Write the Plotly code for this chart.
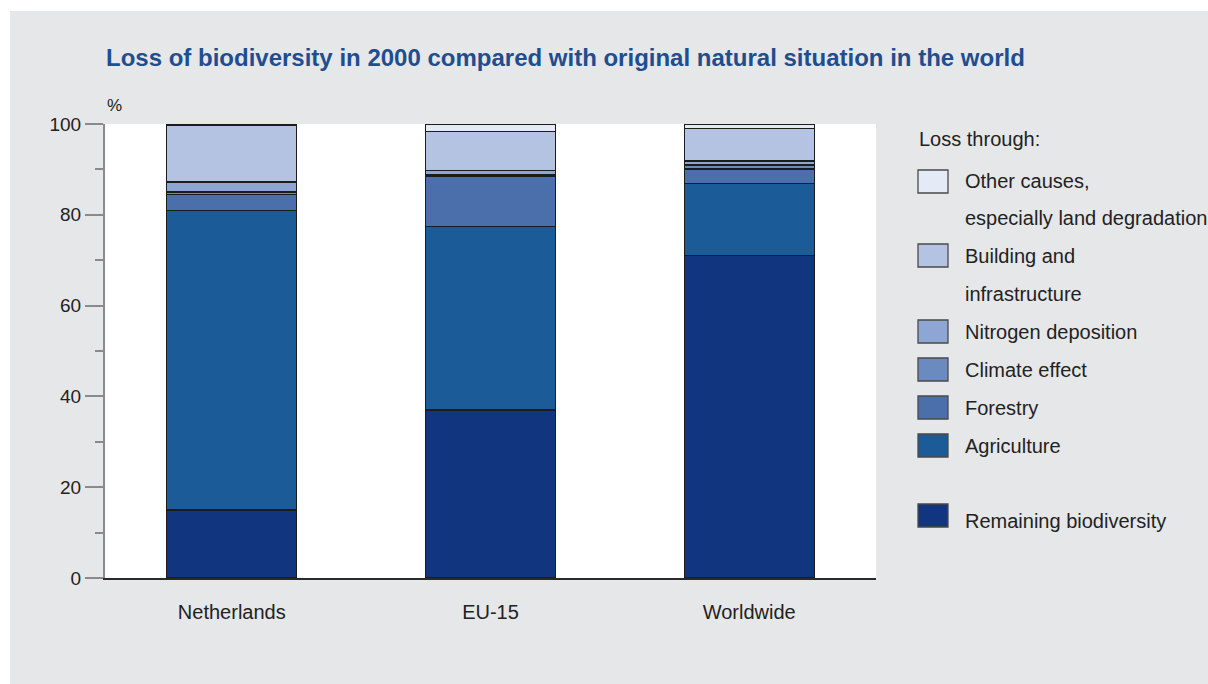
import plotly.graph_objects as go

# --- data -------------------------------------------------------------
regions = ["Netherlands", "EU-15", "Worldwide"]

remaining = [15.0, 37.0, 71.0]
agriculture = [66.0, 40.4, 15.9]
forestry = [3.5, 11.0, 3.2]
climate = [0.5, 0.4, 0.9]
nitrogen = [2.2, 0.9, 0.85]
building = [12.6, 8.7, 7.2]
other = [0.2, 1.6, 0.95]

series_names = [
    "Remaining biodiversity", "Agriculture", "Forestry", "Climate effect",
    "Nitrogen deposition", "Building and infrastructure",
    "Other causes, especially land degradation",
]
series_values = [remaining, agriculture, forestry, climate, nitrogen, building, other]
series_colors = ["#12357f", "#1b5b98", "#4a6fab", "#6b8bc0", "#8ea6d3", "#b3c3e1", "#e4ebf7"]

y_ticks = [0, 20, 40, 60, 80, 100]

# --- canvas geometry (pixels) -----------------------------------------
W, H = 1208, 684
PL, PR, PT, PB = 105, 876, 124, 578   # plot area edges


def fx(px):
    return (px - PL) / (PR - PL)


def fy(py):
    return (PB - py) / (PB - PT)


FONT = "Liberation Sans Narrow, Arial Narrow, Liberation Sans, Arial, sans-serif"
BG = "#e6e7e9"
TXT = "#222"

fig = go.Figure()
for name, vals, col in zip(series_names, series_values, series_colors):
    fig.add_trace(go.Bar(
        x=regions, y=vals, name=name,
        marker=dict(color=col, line=dict(color="#1c1c1c", width=1.3)),
        showlegend=False,
    ))

shapes = [
    # white page margins around the grey panel
    dict(type="rect", xref="paper", yref="paper", x0=fx(0), x1=fx(W), y0=fy(0), y1=fy(11),
         fillcolor="white", line_width=0, layer="below"),
    dict(type="rect", xref="paper", yref="paper", x0=fx(0), x1=fx(10), y0=fy(0), y1=fy(H),
         fillcolor="white", line_width=0, layer="below"),
]
annotations = [
    dict(text="<b>Loss of biodiversity in 2000 compared with original natural situation in the world</b>",
         xref="paper", yref="paper", x=fx(104), y=fy(57), xanchor="left", yanchor="middle",
         showarrow=False, font=dict(family=FONT, size=24, color="#1f4e8f")),
    dict(text="%", xref="paper", yref="paper", x=fx(105), y=fy(106), xanchor="left", yanchor="middle",
         showarrow=False, font=dict(family=FONT, size=17, color=TXT)),
    dict(text="Loss through:", xref="paper", yref="paper", x=fx(917), y=fy(139), xanchor="left",
         yanchor="middle", showarrow=False, font=dict(family=FONT, size=20, color=TXT)),
]

# legend: swatch top pixel, list of (text, y-center) lines
legend_rows = [
    (6, 170, [("Other causes,", 181), ("especially land degradation", 218)]),
    (5, 244, [("Building and", 256), ("infrastructure", 294)]),
    (4, 320, [("Nitrogen deposition", 332)]),
    (3, 358, [("Climate effect", 370)]),
    (2, 396, [("Forestry", 408)]),
    (1, 434, [("Agriculture", 446)]),
    (0, 504, [("Remaining biodiversity", 521)]),
]
for idx, top, lines in legend_rows:
    shapes.append(dict(type="rect", xref="paper", yref="paper",
                       x0=fx(918), x1=fx(948), y0=fy(top), y1=fy(top + 23),
                       fillcolor=series_colors[idx], line=dict(color="#4a4a4a", width=1.3)))
    for txt, yc in lines:
        annotations.append(dict(text=txt, xref="paper", yref="paper", x=fx(963), y=fy(yc),
                                xanchor="left", yanchor="middle", showarrow=False,
                                font=dict(family=FONT, size=20, color=TXT)))

fig.update_layout(
    width=W, height=H,
    margin=dict(l=PL, r=W - PR, t=PT, b=H - PB, pad=0),
    paper_bgcolor=BG, plot_bgcolor="white",
    barmode="stack", bargap=0.497,
    shapes=shapes, annotations=annotations,
    font=dict(family=FONT, size=20, color=TXT),
    xaxis=dict(range=[-0.49, 2.49], showgrid=False, zeroline=False,
               showline=True, linecolor="#2a2a2a", linewidth=2,
               ticks="outside", ticklen=15, tickcolor="rgba(0,0,0,0)",
               tickfont=dict(family=FONT, size=20, color=TXT), fixedrange=True),
    yaxis=dict(range=[0, 100], tickvals=y_ticks, showgrid=False, zeroline=False,
               showline=True, linecolor="#8a8a8a", linewidth=2,
               ticks="outside", ticklen=18, tickwidth=1.5, tickcolor="#8a8a8a",
               minor=dict(tickvals=[10, 30, 50, 70, 90], ticks="outside", ticklen=8,
                          tickwidth=1.5, tickcolor="#8a8a8a"),
               tickfont=dict(family=FONT, size=19, color=TXT), fixedrange=True),
)

fig.write_html("out.html")
